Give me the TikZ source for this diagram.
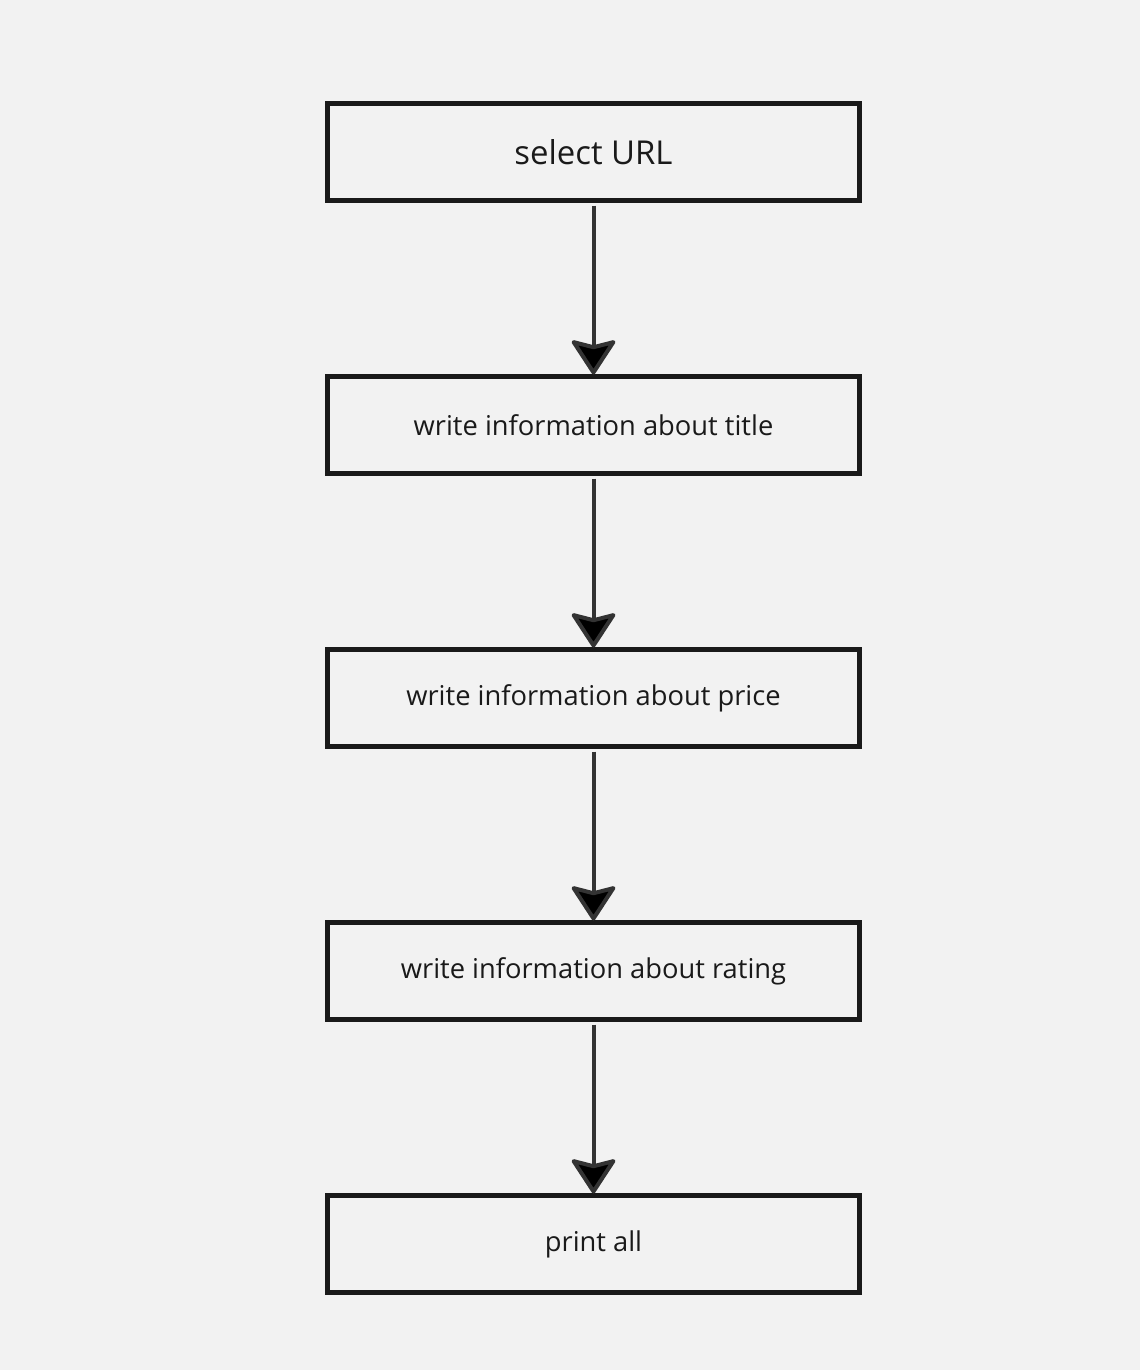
\documentclass[tikz,border=0pt]{standalone}
\usepackage{fontspec}
\setmainfont{Open Sans}
\usetikzlibrary{positioning,arrows.meta}

\definecolor{bgcol}{HTML}{F2F2F2}
\definecolor{boxcol}{HTML}{1A1A1A}
\definecolor{arrcol}{HTML}{333333}

\begin{document}
\begin{tikzpicture}[x=1pt,y=1pt,node distance=176pt,
    stepbox/.style={draw=boxcol,line width=4.5pt,outer sep=0pt,
        minimum width=532pt,minimum height=97pt,text=boxcol,font=\fontsize{27.3}{32}\selectfont},
    flow/.style={draw=arrcol,line width=4pt,shorten <=5pt,shorten >=2pt,
        -{Stealth[length=37pt,width=48pt,inset=6pt,round]}}]

    \fill[bgcol] (0,0) rectangle (1140,-1370);
    \useasboundingbox (0,0) rectangle (1140,-1370);

    \node (url) [stepbox,font=\fontsize{32.9}{38}\selectfont] at (593.5,-152) {select URL};
    \node (title) [stepbox,below=of url] {write information about title};
    \node (price) [stepbox,below=of title] {write information about price};
    \node (rating) [stepbox,below=of price] {write information about rating};
    \node (print) [stepbox,below=of rating] {print all};

    \path[flow] (url) edge (title);
    \path[flow] (title) edge (price);
    \path[flow] (price) edge (rating);
    \path[flow] (rating) edge (print);

\end{tikzpicture}
\end{document}
